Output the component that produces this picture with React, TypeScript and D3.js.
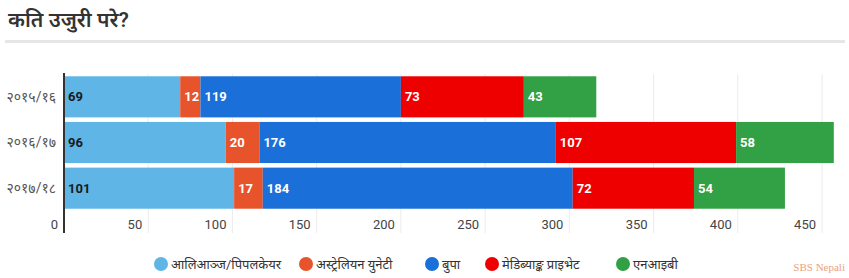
import React from "react";
import * as d3 from "d3";

const categories = ["२०१५/१६", "२०१६/१७", "२०१७/१८"];
const seriesNames = ["आलिआञ्ज/पिपलकेयर", "अस्ट्रेलियन युनेटी", "बुपा", "मेडिब्याङ्क प्राइभेट", "एनआइबी"];
const allianz = [69, 96, 101];
const australianUnity = [12, 20, 17];
const bupa = [119, 176, 184];
const medibank = [73, 107, 72];
const nib = [43, 58, 54];
const xTicks = [0, 50, 100, 150, 200, 250, 300, 350, 400, 450];
const colors = ["#5fb6e6", "#e7532b", "#1a6fd8", "#ef0000", "#32a045"];
const labelColors = ["#1a1a1a", "#ffffff", "#ffffff", "#ffffff", "#ffffff"];

const W = 849;
const H = 278;

export default function App() {
  const series = [allianz, australianUnity, bupa, medibank, nib];
  const x = d3.scaleLinear().domain([0, 450]).range([64, 822]);
  const y = d3.scaleBand().domain(categories).range([74, 211]).paddingInner(0.1).paddingOuter(0.05);
  const stacked = categories.map((c, i) => {
    let acc = 0;
    return series.map((s, k) => {
      const start = acc;
      acc += s[i];
      return { k, start, end: acc, v: s[i] };
    });
  });
  const legendX = [161, 306, 432, 492, 623];
  const font = "Roboto, 'Noto Sans', sans-serif";
  return (
    <svg width={W} height={H} style={{ position: "absolute", left: 0, top: 0, background: "#fff" }}>
      <text x={8} y={27} fontSize={21} fontWeight={600} fill="#333" fontFamily={font}>कति उजुरी परे?</text>
      <rect x={5} y={40} width={840} height={3} fill="#e6e6e6" />
      {xTicks.slice(1).map((t) => (
        <line key={"g" + t} x1={x(t)} x2={x(t)} y1={74} y2={233} stroke="#ececec" strokeWidth={1} />
      ))}
      {stacked.map((row, i) =>
        row.map((seg) => (
          <rect key={i + "-" + seg.k} x={x(seg.start)} y={y(categories[i])!} width={x(seg.end) - x(seg.start)} height={y.bandwidth()} fill={colors[seg.k]} />
        ))
      )}
      {stacked.map((row, i) =>
        row.map((seg) => (
          <text key={"l" + i + "-" + seg.k} x={x(seg.start) + 4} y={y(categories[i])! + y.bandwidth() / 2} dy="0.35em" fontSize={13} fontWeight={700} fill={labelColors[seg.k]} fontFamily={font}>{seg.v}</text>
        ))
      )}
      {categories.map((c) => (
        <text key={c} x={56} y={y(c)! + y.bandwidth() / 2} dy="0.35em" textAnchor="end" fontSize={14} fill="#555" fontFamily={font}>{c}</text>
      ))}
      <line x1={64} x2={64} y1={73} y2={233} stroke="#333" strokeWidth={2} />
      {xTicks.map((t) => (
        <text key={"t" + t} x={x(t) - 6} y={224} dy="0.35em" textAnchor="end" fontSize={13} fill="#444" fontFamily={font}>{t}</text>
      ))}
      {seriesNames.map((n, k) => (
        <g key={n}>
          <circle cx={legendX[k]} cy={264} r={7} fill={colors[k]} />
          <text x={legendX[k] + 10} y={264} dy="0.35em" fontSize={13} fill="#333" fontFamily={font}>{n}</text>
        </g>
      ))}
      <text x={845} y={271} textAnchor="end" fontSize={11} fill="#eaa27c" fontFamily="'Liberation Serif', serif">SBS Nepali</text>
    </svg>
  );
}
